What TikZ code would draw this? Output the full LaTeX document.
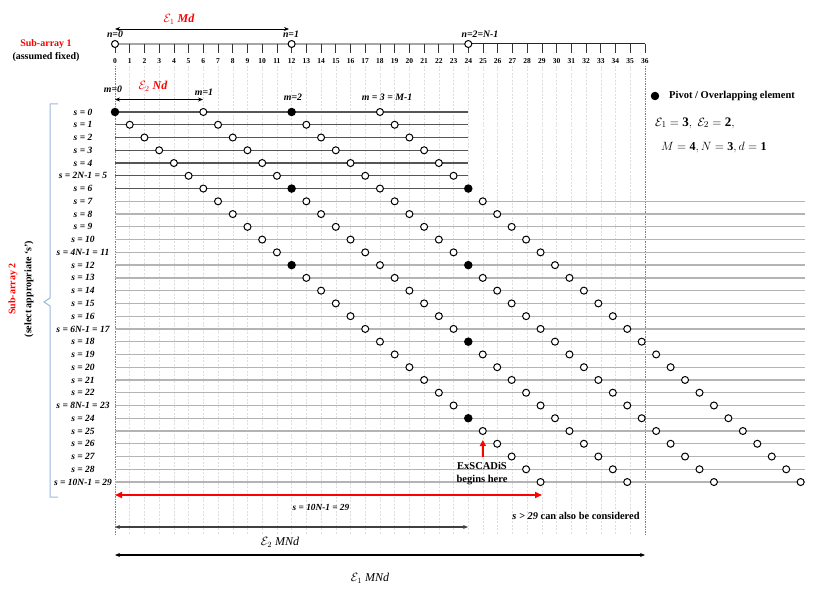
\documentclass[tikz,border=0pt]{standalone}
\usepackage{fontspec}
\setmainfont{Liberation Serif}
\usetikzlibrary{arrows.meta}
\definecolor{rowdark}{HTML}{555555}
\definecolor{rowlight}{HTML}{B4B4B4}
\definecolor{gridc}{HTML}{DEDEDE}
\definecolor{bracec}{HTML}{9DB9DC}
\newcommand{\calE}[1]{\ensuremath{\mathcal{E}_{#1}}}
\begin{document}
\begin{tikzpicture}[x=1pt,y=-1pt,
  declare function={X(\p)=115+14.72*\p; Y(\s)=112+12.76*\s;
    CX(\p)=ifthenelse(\p<=24,115+14.72*\p,468.3+14.45*(\p-24));},
  opc/.style={circle,draw=black,fill=white,line width=1pt,minimum size=7pt,inner sep=0pt},
  fic/.style={circle,fill=black,minimum size=8.5pt,inner sep=0pt},
  rowlab/.style={font=\bfseries\itshape\fontsize{9.5}{10}\selectfont,inner sep=0pt},
  ticklab/.style={font=\bfseries\fontsize{7.5}{8}\selectfont,inner sep=0pt},
  idxlab/.style={font=\bfseries\itshape\fontsize{9.8}{10}\selectfont,inner sep=0pt},
  boldlab/.style={font=\bfseries\fontsize{10}{12}\selectfont,inner sep=0pt},
  redlab/.style={font=\bfseries\itshape\fontsize{12}{13}\selectfont,text=red,inner sep=0pt},
  mathlab/.style={font=\itshape\fontsize{12}{13}\selectfont,inner sep=0pt},
  dimarrow/.style={line width=0.9pt,{Stealth[length=5pt,width=4pt]}-{Stealth[length=5pt,width=4pt]}},
  redarrow/.style={red,line width=1.6pt,{Triangle[length=7pt,width=6pt]}-{Triangle[length=7pt,width=6pt]}},
  gridline/.style={gridc,line width=0.5pt,dash pattern=on 2pt off 1.5pt},
  edgegrid/.style={black!50,line width=0.6pt,dash pattern=on 1.5pt off 1pt},
  darkrow/.style={rowdark,line width=1.3pt},
  lightrow/.style={rowlight,line width=1.3pt},
]
\useasboundingbox (0,0) rectangle (822,607);

% vertical grid
\foreach \p in {1,...,35} \draw[gridline] ({X(\p)},66) -- ({X(\p)},535);
\draw[edgegrid] ({X(0)},66) -- ({X(0)},535);
\draw[edgegrid] ({X(36)},66) -- ({X(36)},535);

% sub-array 1 axis
\draw[gray!70,line width=1.6pt] (115,44) -- (468.3,44);
\draw[black!85,line width=1pt] (468.3,44) -- (645,44);
\foreach \p in {0,...,36} {
  \draw[black!80,line width=0.7pt] ({X(\p)},44) -- ({X(\p)},53);
  \node[ticklab] (t\p) at ({X(\p)},61.5) {\p};
}
\node[opc] (a0) at ({X(0)},44) {};
\node[opc] (a1) at ({X(12)},44) {};
\node[opc] (a2) at ({X(24)},44) {};
\node[idxlab] (n0) at (115,34) {n=0};
\node[idxlab] (n1) at (291,34) {n=1};
\node[idxlab] (n2) at (480,34) {n=2=N-1};
\coordinate (e1a) at (115,29);
\coordinate (e1b) at (289,29);
\draw[dimarrow] (e1a) -- (e1b);
\node[redlab] (e1md) at (179,19) {\calE{1} Md};
\node[boldlab,text=red] (sa1) at (46,44) {Sub-array 1};
\node[boldlab] (sa1b) at (46,57) {(assumed fixed)};

% m labels
\node[idxlab] (m0) at (113,89) {m=0};
\node[idxlab] (m1) at (204,92) {m=1};
\node[idxlab] (m2) at (293,97) {m=2};
\node[idxlab] (m3) at (387,97) {m = 3 = M-1};
\coordinate (e2a) at (115,99.5);
\coordinate (e2b) at (203,99.5);
\draw[dimarrow] (e2a) -- (e2b);
\node[redlab] (e2nd) at (153,86) {\calE{2} Nd};

% rows
\foreach \s in {0,...,29} {
  \coordinate (rs\s) at (115,{Y(\s)});
  \ifnum\s<7
    \coordinate (re\s) at (468.3,{Y(\s)});
    \draw[darkrow] (rs\s) -- (re\s);
  \else
    \coordinate (re\s) at (805,{Y(\s)});
    \draw[lightrow] (rs\s) -- (re\s);
  \fi
}
\foreach \s in {0,...,29} \foreach \m in {0,...,3} {
  \pgfmathtruncatemacro\p{\s+6*\m}
  \pgfmathtruncatemacro\isp{(\p==0)||(\p==12)||(\p==24)}
  \ifnum\isp=1
    \node[fic] (c-\s-\m) at ({CX(\p)},{Y(\s)}) {};
  \else
    \node[opc] (c-\s-\m) at ({CX(\p)},{Y(\s)}) {};
  \fi
}
\foreach \s/\t in {0/0,1/1,2/2,3/3,4/4,5/2N-1 = 5,6/6,7/7,8/8,9/9,10/10,11/4N-1 = 11,
  12/12,13/13,14/14,15/15,16/16,17/6N-1 = 17,18/18,19/19,20/20,21/21,22/22,23/8N-1 = 23,
  24/24,25/25,26/26,27/27,28/28,29/10N-1 = 29}
  \node[rowlab] (l\s) at (83,{Y(\s)}) {s = \t};

% brace and rotated labels
\draw[bracec,line width=1pt] (58,104) -- (50,104) -- (50,298) -- (44,302) -- (50,306) -- (50,497) -- (58,497);
\node[boldlab,text=red,rotate=90] (sa2) at (13,289) {Sub-array 2};
\node[boldlab,rotate=90] (sel) at (29,289) {(select appropriate ‘s’)};

% legend
\node[fic] (leg) at (655,96) {};
\node[anchor=west,font=\bfseries\fontsize{10.5}{11}\selectfont,inner sep=0pt] (legt) at (669,96) {Pivot / Overlapping element};
\node[anchor=west,font=\fontsize{13}{14}\selectfont,inner sep=0pt] (par1) at (655,123) {$\mathcal{E}_1 = \mathbf{3},\; \mathcal{E}_2 = \mathbf{2},$};
\node[anchor=west,font=\fontsize{12}{14}\selectfont,inner sep=0pt] (par2) at (661,148) {$M = \mathbf{4}, N = \mathbf{3}, d = \mathbf{1}$};

% bottom annotations
\coordinate (ra) at (115,495);
\coordinate (rb) at (542,495);
\draw[redarrow] (ra) -- (rb);
\node[rowlab,font=\bfseries\itshape\fontsize{9.3}{10}\selectfont] (slab) at (321,507) {s = 10N-1 = 29};
\node[align=center,font=\bfseries\fontsize{10.5}{13}\selectfont,inner sep=0pt] (exs) at (482,474) {ExSCADiS\\begins here};
\coordinate (exa) at (483,457);
\draw[red,line width=2pt,-{Triangle[length=6pt,width=6pt]},shorten >=5pt] (exa) -- (c-25-0);
\node[font=\bfseries\fontsize{10.4}{11}\selectfont,inner sep=0pt] (sgt) at (576,516) {\textit{s > 29} can also be considered};
\coordinate (b2a) at (115,527);
\coordinate (b2b) at (468,527);
\draw[dimarrow,black!75,line width=1.3pt] (b2a) -- (b2b);
\node[mathlab] (e2mnd) at (280,542) {\calE{2} MNd};
\coordinate (b1a) at (115,555);
\coordinate (b1b) at (645,555);
\draw[dimarrow,line width=1.1pt] (b1a) -- (b1b);
\node[mathlab] (e1mnd) at (370,578) {\calE{1} MNd};
\end{tikzpicture}
\end{document}
